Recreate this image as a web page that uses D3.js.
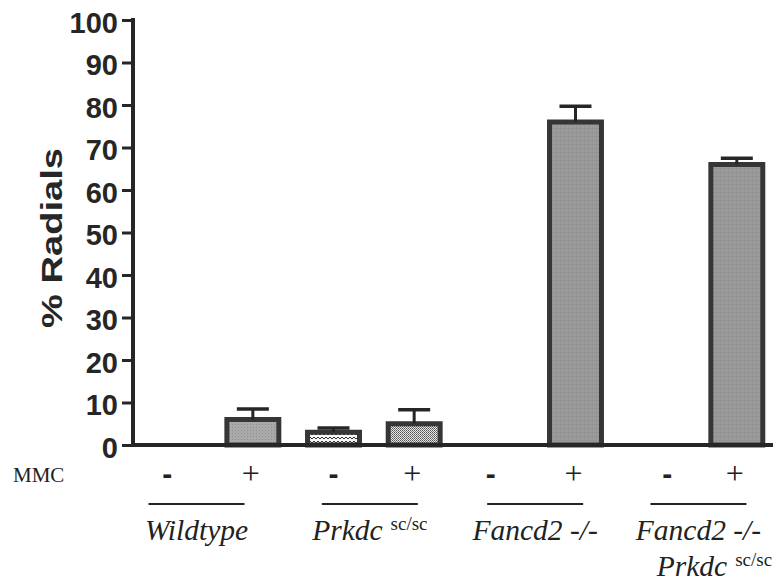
<!DOCTYPE html>
<html>
<head>
<meta charset="utf-8">
<script src="https://cdn.jsdelivr.net/npm/d3@7"></script>
<style>
  html, body { margin: 0; padding: 0; background: #fff; }
  svg { display: block; }
</style>
</head>
<body>
<div id="chart"></div>
<script>
// ---- data ----
const categories = ["WT-", "WT+", "P-", "P+", "F-", "F+", "FP-", "FP+"];
const treatments = ["-", "+", "-", "+", "-", "+", "-", "+"];
const values = [0, 6, 3, 5, 0, 76, 0, 66];
const errors = [0, 2.5, 1, 3.3, 0, 3.7, 0, 1.5];
const fills = ["none", "fine", "checker", "dots", "none", "grid", "none", "grid"];
const groupNames = [["Wildtype"], ["Prkdc", "sc/sc"], ["Fancd2 -/-"], ["Fancd2 -/-"]];
const groupSecondLine = [null, null, null, ["Prkdc", "sc/sc"]];
const groupMembers = [["WT-", "WT+"], ["P-", "P+"], ["F-", "F+"], ["FP-", "FP+"]];
const yTicks = [0, 10, 20, 30, 40, 50, 60, 70, 80, 90, 100];
const yLabel = "% Radials";
const rowLabel = "MMC";

// ---- layout (not data) ----
const W = 773, H = 584;
const axisX = 133, baseY = 445, topY = 20;
const groupShift = [-16, -4, 0, 2];
const minusShift = [-5, 0, -4, 11];

const svg = d3.select("#chart").append("svg").attr("width", W).attr("height", H);

const defs = svg.append("defs");
// grid pattern
const pg = defs.append("pattern").attr("id", "grid").attr("patternUnits", "userSpaceOnUse").attr("width", 4).attr("height", 4);
pg.append("rect").attr("width", 4).attr("height", 4).attr("fill", "#9c9c9c");
pg.append("rect").attr("width", 4).attr("height", 1).attr("fill", "#929292");
pg.append("rect").attr("width", 1).attr("height", 4).attr("fill", "#949494");
// fine texture
const pf = defs.append("pattern").attr("id", "fine").attr("patternUnits", "userSpaceOnUse").attr("width", 3).attr("height", 3);
pf.append("rect").attr("width", 3).attr("height", 3).attr("fill", "#a9a9a9");
pf.append("rect").attr("x", 1).attr("y", 1).attr("width", 1).attr("height", 1).attr("fill", "#8f8f8f");
// checker (zigzag) pattern
const pc = defs.append("pattern").attr("id", "checker").attr("patternUnits", "userSpaceOnUse").attr("width", 4).attr("height", 4);
pc.append("rect").attr("width", 4).attr("height", 4).attr("fill", "#f6f6f6");
pc.append("rect").attr("x", 1).attr("y", 1).attr("width", 2).attr("height", 1).attr("fill", "#333");
pc.append("rect").attr("x", 0).attr("y", 2).attr("width", 1).attr("height", 1).attr("fill", "#333");
pc.append("rect").attr("x", 3).attr("y", 2).attr("width", 1).attr("height", 1).attr("fill", "#333");
// dots pattern
const pd = defs.append("pattern").attr("id", "dots").attr("patternUnits", "userSpaceOnUse").attr("width", 2).attr("height", 2);
pd.append("rect").attr("width", 2).attr("height", 2).attr("fill", "#e6e6e6");
pd.append("rect").attr("width", 1).attr("height", 1).attr("fill", "#555");
pd.append("rect").attr("x", 1).attr("y", 1).attr("width", 1).attr("height", 1).attr("fill", "#777");

const x = d3.scaleBand().domain(categories).range([120, 789]).padding(0.294);
const y = d3.scaleLinear().domain([0, 100]).range([baseY, topY]);

const ink = "#262626";

// bars
const bw = x.bandwidth();
svg.append("g").selectAll("rect")
  .data(categories.map((c, i) => ({c, v: values[i], e: errors[i], f: fills[i]})).filter(d => d.v > 0))
  .join("rect")
  .attr("x", d => x(d.c) + 2.5)
  .attr("y", d => y(d.v))
  .attr("width", bw - 5)
  .attr("height", d => y(0) - y(d.v))
  .attr("fill", d => `url(#${d.f})`)
  .attr("stroke", "#363636")
  .attr("stroke-width", 5);

// error bars
const eg = svg.append("g");
categories.forEach((c, i) => {
  if (values[i] <= 0) return;
  const cx = x(c) + bw / 2;
  eg.append("line").attr("x1", cx).attr("x2", cx)
    .attr("y1", y(values[i])).attr("y2", y(values[i] + errors[i]))
    .attr("stroke", ink).attr("stroke-width", 3);
  eg.append("line").attr("x1", cx - 16).attr("x2", cx + 16)
    .attr("y1", y(values[i] + errors[i])).attr("y2", y(values[i] + errors[i]))
    .attr("stroke", ink).attr("stroke-width", 3.5);
});

// y axis
const yAxis = d3.axisLeft(y).tickValues(yTicks).tickSize(11).tickPadding(4);
const gy = svg.append("g").attr("transform", `translate(${axisX},0)`).call(yAxis);
gy.select(".domain").attr("stroke", ink).attr("stroke-width", 4).attr("d", `M0,${y(100) - 2}V${baseY + 2}`);
gy.selectAll(".tick line").attr("stroke", ink).attr("stroke-width", 3);
gy.selectAll(".tick text")
  .attr("fill", ink)
  .attr("dy", "0.42em")
  .style("font-family", "'Liberation Sans', Arial, sans-serif")
  .style("font-weight", "bold")
  .style("font-size", "29px");

// x axis baseline
svg.append("line").attr("x1", axisX - 2).attr("x2", W).attr("y1", baseY).attr("y2", baseY)
  .attr("stroke", ink).attr("stroke-width", 4);

// y label
svg.append("text")
  .attr("transform", `translate(62,238) rotate(-90)`)
  .attr("text-anchor", "middle")
  .attr("fill", ink)
  .attr("textLength", 180)
  .attr("lengthAdjust", "spacingAndGlyphs")
  .style("font-family", "'Liberation Sans', Arial, sans-serif")
  .style("font-weight", "bold")
  .style("font-size", "30px")
  .text(yLabel);

// MMC row
const serif = "'Liberation Serif', 'Times New Roman', 'DejaVu Serif', serif";
svg.append("text").attr("x", 13).attr("y", 482)
  .attr("fill", "#222").style("font-family", serif).style("font-size", "21px").text(rowLabel);

const signs = svg.append("g");
categories.forEach((c, i) => {
  const cx = x(c) + bw / 2;
  if (treatments[i] === "-") {
    signs.append("text").attr("x", cx + minusShift[Math.floor(i / 2)]).attr("y", 484).attr("text-anchor", "middle")
      .attr("fill", "#222").style("font-family", "'Liberation Sans', Arial, sans-serif")
      .style("font-weight", "bold").style("font-size", "30px").text("-");
  } else {
    signs.append("text").attr("x", cx - 2).attr("y", 484).attr("text-anchor", "middle")
      .attr("fill", "#222").style("font-family", serif).style("font-size", "32px").text("+");
  }
});

// group underlines and labels
const lg = svg.append("g");
groupMembers.forEach((m, gi) => {
  const cx = (x(m[0]) + x(m[1]) + bw) / 2 + groupShift[gi];
  lg.append("line").attr("x1", cx - 48).attr("x2", cx + 48).attr("y1", 504).attr("y2", 504)
    .attr("stroke", "#222").attr("stroke-width", 2);
  const writeLabel = (parts, yy, shift) => {
    const t = lg.append("text").attr("x", cx + shift).attr("y", yy).attr("text-anchor", "middle")
      .attr("fill", "#222").style("font-family", serif).style("font-size", "29.5px");
    t.append("tspan").style("font-style", "italic").text(parts[0]);
    if (parts[1]) {
      t.append("tspan").attr("dx", 8).attr("dy", -10).style("font-size", "19px").text(parts[1]);
    }
  };
  writeLabel(groupNames[gi], 540, 0);
  if (groupSecondLine[gi]) writeLabel(groupSecondLine[gi], 576, 16);
});
</script>
</body>
</html>
